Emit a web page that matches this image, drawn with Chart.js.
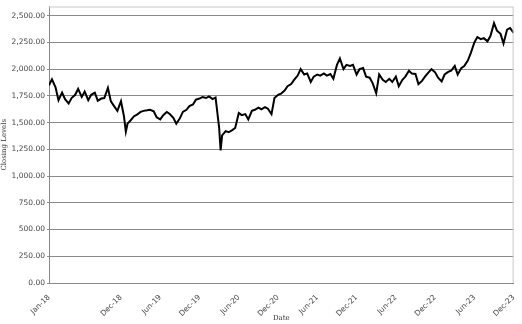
<!DOCTYPE html>
<html lang="en">
<head>
  <meta charset="UTF-8">
  <title>Closing Levels</title>
  <script src="https://cdn.jsdelivr.net/npm/chart.js"></script>
  <style>
    html, body { margin: 0; padding: 0; background: #fff; }
    #wrap { width: 522px; height: 324px; }
  </style>
</head>
<body>
  <div id="wrap"><canvas id="levels" width="522" height="324"></canvas></div>

  <script>
    // semi-monthly closes (plus the two sharp lows)
    const dates = [
      '2018-01-01','2018-01-15','2018-02-01','2018-02-15','2018-03-01','2018-03-15','2018-04-01','2018-04-15',
      '2018-05-01','2018-05-15','2018-06-01','2018-06-15','2018-07-01','2018-07-15','2018-08-01','2018-08-15',
      '2018-09-01','2018-09-15','2018-10-01','2018-10-15','2018-11-01','2018-11-15','2018-12-01','2018-12-15',
      '2018-12-24',
      '2019-01-01','2019-01-15','2019-02-01','2019-02-15','2019-03-01','2019-03-15','2019-04-01','2019-04-15',
      '2019-05-01','2019-05-15','2019-06-01','2019-06-15','2019-07-01','2019-07-15','2019-08-01','2019-08-15',
      '2019-09-01','2019-09-15','2019-10-01','2019-10-15','2019-11-01','2019-11-15','2019-12-01','2019-12-15',
      '2020-01-01','2020-01-15','2020-02-01','2020-02-15','2020-03-01','2020-03-08','2020-03-15','2020-04-01',
      '2020-04-15','2020-05-01','2020-05-15','2020-06-01','2020-06-15','2020-07-01','2020-07-15','2020-08-01',
      '2020-08-15','2020-09-01','2020-09-15','2020-10-01','2020-10-15','2020-11-01','2020-11-15','2020-12-01',
      '2020-12-15',
      '2021-01-01','2021-01-15','2021-02-01','2021-02-15','2021-03-01','2021-03-15','2021-04-01','2021-04-15',
      '2021-05-01','2021-05-15','2021-06-01','2021-06-15','2021-07-01','2021-07-15','2021-08-01','2021-08-15',
      '2021-09-01','2021-09-15','2021-10-01','2021-10-15','2021-11-01','2021-11-15','2021-12-01','2021-12-15',
      '2022-01-01','2022-01-15','2022-02-01','2022-02-15','2022-03-01','2022-03-15','2022-04-01','2022-04-15',
      '2022-05-01','2022-05-15','2022-06-01','2022-06-15','2022-07-01','2022-07-15','2022-08-01','2022-08-15',
      '2022-09-01','2022-09-15','2022-10-01','2022-10-15','2022-11-01','2022-11-15','2022-12-01','2022-12-15',
      '2023-01-01','2023-01-15','2023-02-01','2023-02-15','2023-03-01','2023-03-15','2023-04-01','2023-04-15',
      '2023-05-01','2023-05-15','2023-06-01','2023-06-15','2023-07-01','2023-07-15','2023-08-01','2023-08-15',
      '2023-09-01','2023-09-15','2023-10-01','2023-10-15','2023-11-01','2023-11-15','2023-12-01'
    ];
    const closes = [
      1850,1905,1830,1710,1780,1720,1680,1730,
      1760,1815,1740,1790,1710,1760,1780,1705,
      1725,1730,1825,1700,1650,1610,1700,1560,
      1415,
      1490,1520,1560,1575,1600,1610,1615,1620,
      1605,1550,1530,1570,1600,1580,1545,1490,
      1540,1600,1620,1655,1670,1715,1725,1740,
      1730,1745,1720,1735,1450,1240,1380,1420,
      1410,1430,1450,1590,1570,1580,1530,1610,
      1620,1640,1625,1645,1630,1580,1730,1760,
      1770,
      1800,1840,1860,1900,1940,2000,1950,1960,
      1880,1930,1950,1940,1960,1940,1955,1910,
      2040,2100,2000,2040,2030,2040,1950,2000,
      2010,1930,1920,1870,1775,1950,1900,1880,
      1910,1880,1930,1840,1900,1930,1985,1960,
      1955,1860,1890,1930,1970,2000,1970,1920,
      1885,1950,1975,1985,2030,1950,2010,2030,
      2080,2150,2250,2300,2280,2290,2260,2310,
      2430,2360,2330,2240,2370,2385,2340
    ];

    const tickLabels = ['Jan-18','Dec-18','Jun-19','Dec-19','Jun-20','Dec-20',
                        'Jun-21','Dec-21','Jun-22','Dec-22','Jun-23','Dec-23'];
    const yTicks = [0, 250, 500, 750, 1000, 1250, 1500, 1750, 2000, 2250, 2500];

    const MONTHS = ['Jan','Feb','Mar','Apr','May','Jun','Jul','Aug','Sep','Oct','Nov','Dec'];

    // months since Jan 2018
    function monthIndex(d) {
      const [y, m, day] = d.split('-').map(Number);
      return (y - 2018) * 12 + (m - 1) + (day - 1) / 31;
    }
    function labelIndex(lbl) {
      const [mon, yy] = lbl.split('-');
      return (Number(yy) - 18) * 12 + MONTHS.indexOf(mon);
    }
    const tickVals = tickLabels.map(labelIndex);

    const points = dates.map((d, i) => ({ x: monthIndex(d), y: closes[i] }));

    const tickFont = { family: 'DejaVu Sans', size: 7.5 };
    const titleFont = { family: 'DejaVu Serif', size: 7 };

    const frame = {
      id: 'frame',
      afterDraw(chart) {
        const a = chart.chartArea, c = chart.ctx;
        c.save();
        c.strokeStyle = '#c8c8c8';
        c.lineWidth = 1;
        c.beginPath();
        c.moveTo(a.left, a.top + 0.5);
        c.lineTo(a.right - 0.5, a.top + 0.5);
        c.lineTo(a.right - 0.5, a.bottom);
        c.stroke();
        c.restore();
      }
    };

    new Chart(document.getElementById('levels'), {
      type: 'line',
      data: {
        datasets: [{
          label: 'Closing Levels',
          data: points,
          borderColor: '#000',
          borderWidth: 2,
          pointRadius: 0,
          tension: 0,
          fill: false
        }]
      },
      options: {
        responsive: false,
        animation: false,
        layout: { padding: { top: 4, right: 6, left: 0, bottom: 0 } },
        plugins: { legend: { display: false }, tooltip: { enabled: false } },
        scales: {
          x: {
            type: 'linear',
            min: 0,
            max: 71,
            afterBuildTicks: s => { s.ticks = tickVals.map(v => ({ value: v })); },
            afterFit: s => { s.height = 41; },
            grid: { display: false },
            border: { color: '#888', width: 1 },
            ticks: {
              autoSkip: false,
              minRotation: 45,
              maxRotation: 45,
              padding: 2,
              color: '#444',
              font: tickFont,
              callback: (v, i) => tickLabels[i]
            },
            title: { display: true, text: 'Date', color: '#333', font: titleFont, padding: { top: 0, bottom: 2 } }
          },
          y: {
            min: 0,
            max: 2586,
            afterBuildTicks: s => { s.ticks = yTicks.map(v => ({ value: v })); },
            afterFit: s => { s.width = 49; },
            grid: { color: '#8a8a8a', lineWidth: 1, tickLength: 2 },
            border: { color: '#888', width: 1 },
            ticks: {
              padding: 2,
              color: '#444',
              font: tickFont,
              callback: v => v.toLocaleString('en-US', { minimumFractionDigits: 2, maximumFractionDigits: 2 })
            },
            title: { display: true, text: 'Closing Levels', color: '#333', font: titleFont, padding: 0 }
          }
        }
      },
      plugins: [frame]
    });
  </script>
</body>
</html>
